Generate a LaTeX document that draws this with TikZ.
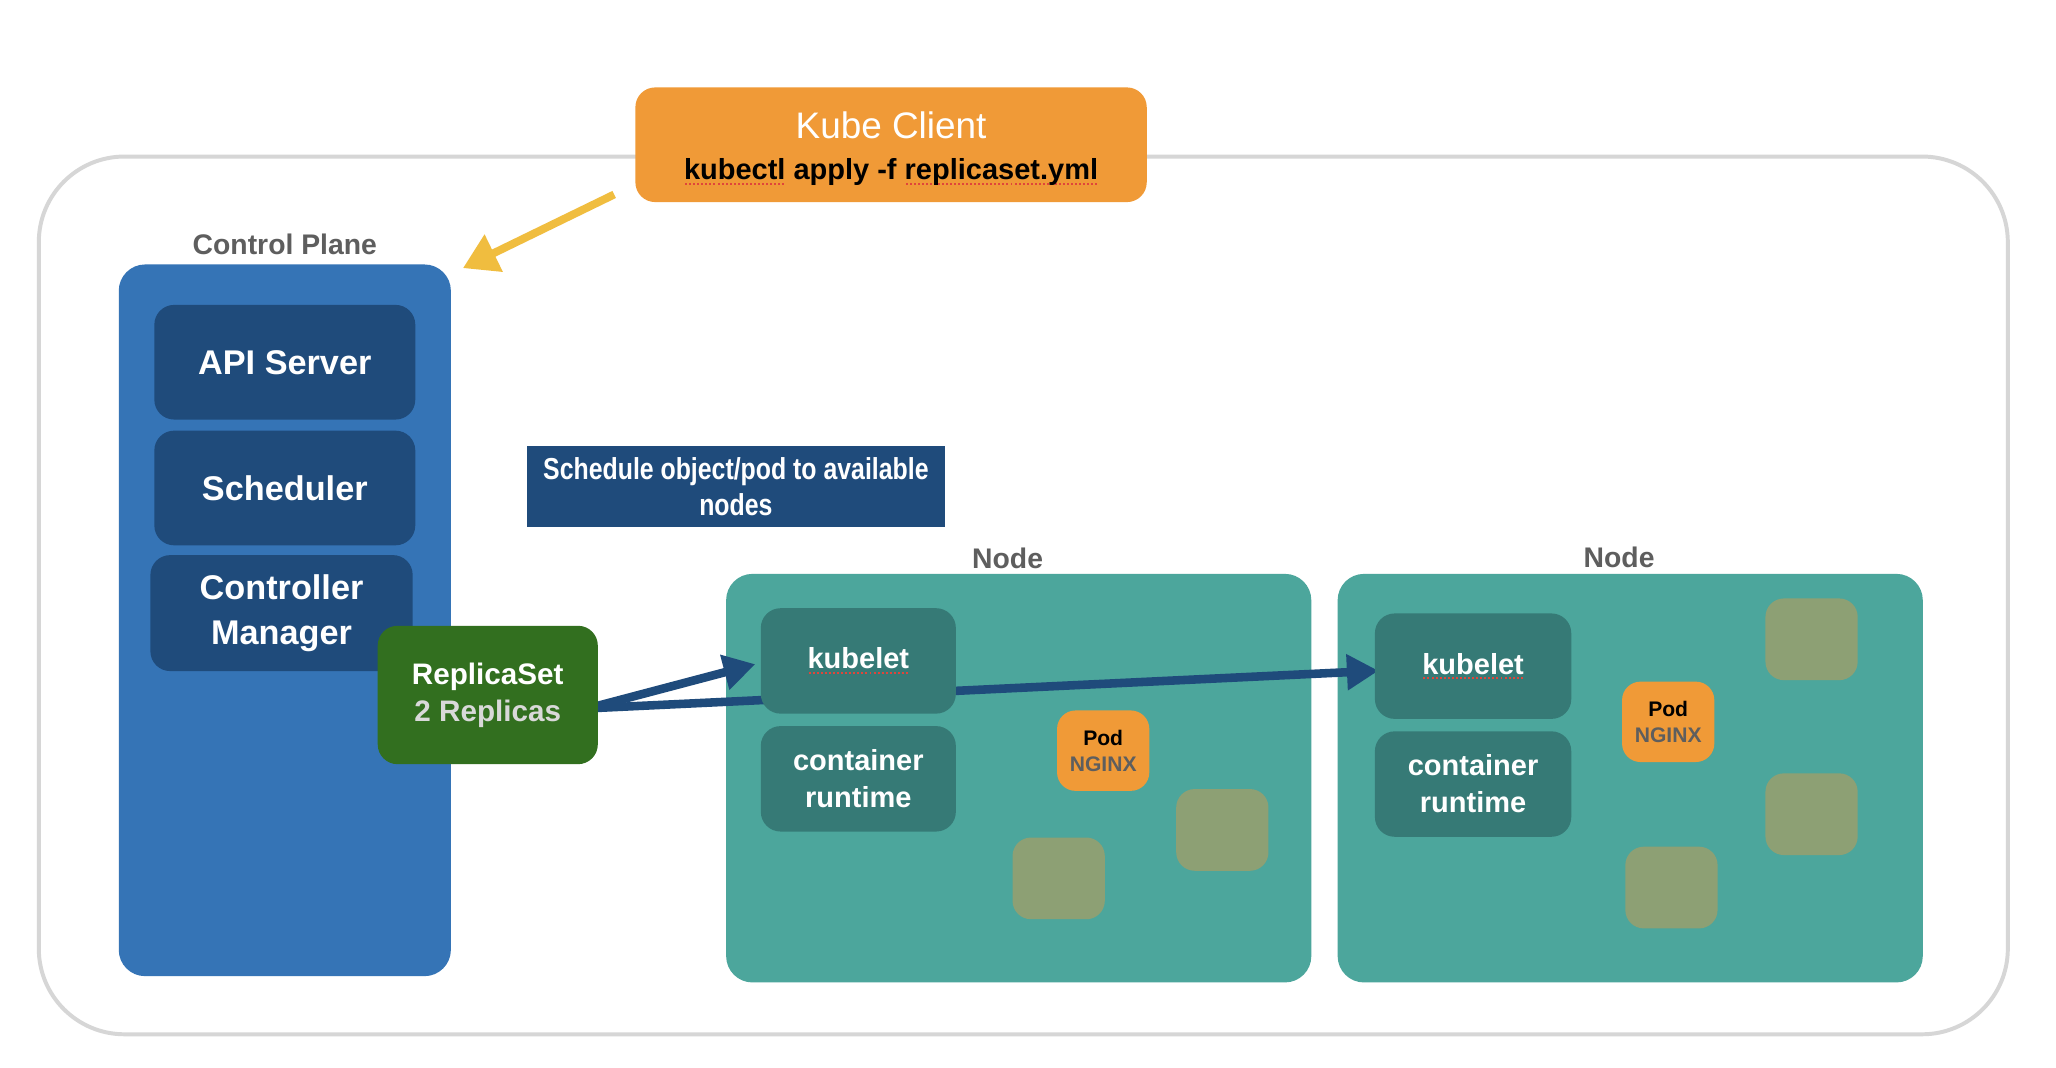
\documentclass[tikz,border=0pt]{standalone}
\usepackage{fontspec}
\setmainfont{Liberation Sans}
\newfontfamily\condfont[FakeStretch=0.82]{Liberation Sans}
\usetikzlibrary{arrows.meta,calc}
\definecolor{kcorange}{HTML}{F09A37}
\definecolor{cpblue}{HTML}{3574B6}
\definecolor{darkblue}{HTML}{1F4B7B}
\definecolor{rsgreen}{HTML}{326F1F}
\definecolor{nodeteal}{HTML}{4CA69C}
\definecolor{darkteal}{HTML}{367A76}
\definecolor{olive}{HTML}{8DA074}
\definecolor{arrowyellow}{HTML}{F0BD3F}
\definecolor{labelgray}{HTML}{5E5E5E}
\definecolor{framegray}{HTML}{D6D6D6}
\definecolor{lightgrey}{HTML}{D9D9D9}
\definecolor{spellred}{HTML}{E0453A}
\pgfdeclarelayer{back}
\pgfdeclarelayer{mid}
\pgfsetlayers{back,mid,main}
\newcommand\fsz[2]{\fontsize{#1}{#2}\selectfont}
\newcommand\squig[1]{\setbox0\hbox{#1}\rlap{\raisebox{-4pt}{\color{spellred}\hbox to \wd0{\xleaders\hbox to 3pt{\hss\rule{1.5pt}{1.5pt}\hss}\hfill}}}\box0\relax}
\begin{document}
\begin{tikzpicture}[x=0.9935pt,y=-0.994pt,
  framebox/.style={draw=framegray, line width=3pt, rounded corners=65pt, inner sep=0pt},
  contbox/.style={rounded corners=20pt, inner sep=0pt},
  innerbox/.style={rounded corners=15pt, inner sep=0pt, align=center, text=white},
  podbox/.style={rounded corners=14pt, inner sep=0pt, align=center, fill=kcorange, minimum width=70pt, minimum height=61pt},
  olivebox/.style={rounded corners=14pt, inner sep=0pt, fill=olive, minimum width=70pt, minimum height=62pt},
  grouplabel/.style={text=labelgray, font=\fsz{21.5}{26}\bfseries, inner sep=0pt},
  bluearrow/.style={draw=darkblue, line width=6.5pt, -{Triangle[length=24pt,width=26pt]}},
  yellowarrow/.style={draw=arrowyellow, line width=6pt, -{Triangle[length=26pt,width=30pt]}}
]
\begin{pgfonlayer}{back}
\useasboundingbox[fill=white] (0pt,0pt) rectangle (1560pt,-810pt);
\end{pgfonlayer}
\begin{scope}[shift={(2.5pt,0.5pt)}]
\begin{pgfonlayer}{back}
\node[framebox, minimum width=1494pt, minimum height=666pt] (frame) at (779,455) {};
\node[contbox, fill=cpblue, minimum width=252pt, minimum height=540pt] (cp) at (215,474) {};
\node[contbox, fill=nodeteal, minimum width=444pt, minimum height=310pt] (n1) at (775.5,594.5) {};
\node[contbox, fill=nodeteal, minimum width=444pt, minimum height=310pt] (n2) at (1242.5,594.5) {};
\end{pgfonlayer}

% labels
\node[grouplabel] (cplabel) at (215,187) {Control Plane};
\node[grouplabel] (n1label) at (767,427) {Node};
\node[grouplabel] (n2label) at (1234,426) {Node};

% kube client
\node[innerbox, fill=kcorange, minimum width=388pt, minimum height=87pt, font=\fsz{22}{31}] (kc) at (678,111)
  {{\fsz{28}{31}\rule{0pt}{26pt}Kube Client}\\{\color{black}\bfseries\squig{kubectl} apply -f \squig{replicaset.yml}}};

% control plane parts
\node[innerbox, fill=darkblue, minimum width=198pt, minimum height=87pt, font=\fsz{26}{31}\bfseries] (api) at (215,277) {API Server};
\node[innerbox, fill=darkblue, minimum width=198pt, minimum height=87pt, font=\fsz{26}{31}\bfseries] (sched) at (215,373) {Scheduler};
\node[innerbox, fill=darkblue, minimum width=199pt, minimum height=88pt, font=\fsz{26}{34}\bfseries] (cm) at (212.5,468.5) {Controller\\Manager};
\node[innerbox, fill=rsgreen, minimum width=167pt, minimum height=105pt, font=\fsz{22.5}{28}\bfseries] (rs) at (370,531) {ReplicaSet\\{\color{lightgrey}2 Replicas}};

% schedule note
\node[inner sep=0pt, fill=darkblue, minimum width=317pt, minimum height=61pt, align=center, text=white, font=\condfont\fsz{23}{28}\bfseries] (note) at (559.5,372) {Schedule object/pod to available\\nodes};

% node 1
\node[innerbox, fill=darkteal, minimum width=148pt, minimum height=80pt, font=\fsz{22}{28}\bfseries] (kl1) at (653,505) {\squig{kubelet}};
\node[innerbox, fill=darkteal, minimum width=148pt, minimum height=80pt, font=\fsz{22}{28}\bfseries] (cr1) at (653,595) {container\\runtime};
\node[podbox, font=\fsz{16}{20}\bfseries] (pod1) at (840,573.5) {{\color{black}Pod}\\{\color{labelgray}NGINX}};
\node[olivebox] (o11) at (806,671) {};
\node[olivebox] (o12) at (931,634) {};

% node 2
\node[innerbox, fill=darkteal, minimum width=149pt, minimum height=80pt, font=\fsz{22}{28}\bfseries] (kl2) at (1122.5,509) {\squig{kubelet}};
\node[innerbox, fill=darkteal, minimum width=149pt, minimum height=80pt, font=\fsz{22}{28}\bfseries] (cr2) at (1122.5,599) {container\\runtime};
\node[podbox, font=\fsz{16}{20}\bfseries] (pod2) at (1271.5,551.5) {{\color{black}Pod}\\{\color{labelgray}NGINX}};
\node[olivebox] (o21) at (1381,488.5) {};
\node[olivebox] (o22) at (1381,622) {};
\node[olivebox] (o23) at (1274,678) {};

% connectors
\begin{pgfonlayer}{mid}
\draw[yellowarrow] ($(kc.south west)+(-16,-6)$) -- ($(cp.north east)+(9,3)$);
\draw[bluearrow] ($(rs.east)+(-3,9)$) -- ($(kl1.west)+(-4,2.5)$);
\draw[bluearrow] ($(rs.east)+(-3,10)$) -- ($(kl2.west)+(3,3.5)$);
\end{pgfonlayer}
\end{scope}
\end{tikzpicture}
\end{document}
